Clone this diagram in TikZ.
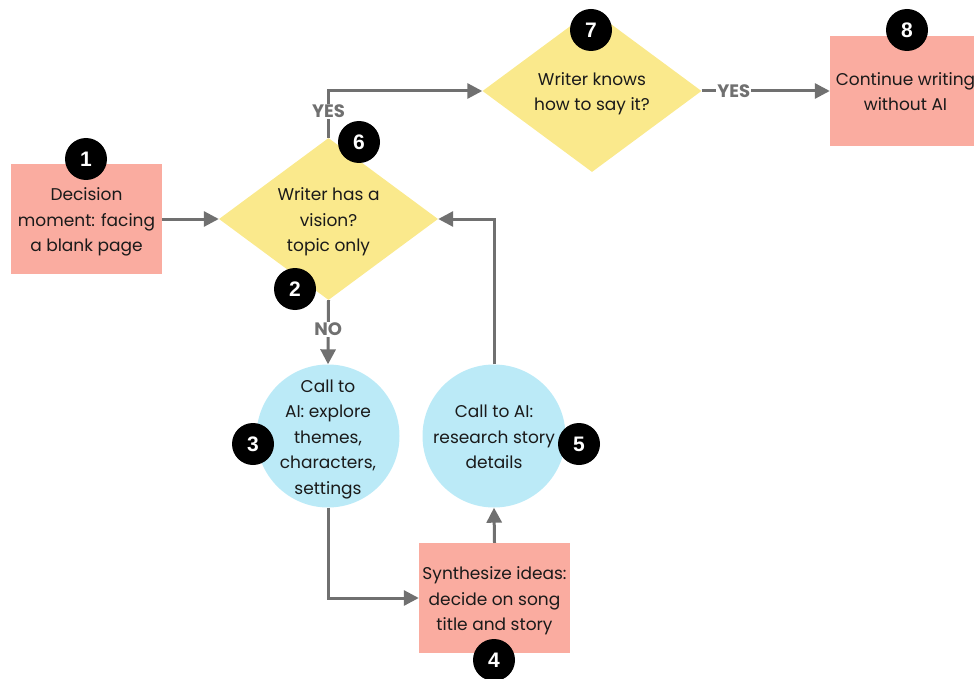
\documentclass[tikz,border=0pt]{standalone}
\usepackage{fontspec}
\setmainfont{Poppins}
\newfontfamily\badgefont{Liberation Sans}
\usetikzlibrary{shapes.geometric,arrows.meta}
\definecolor{salmon}{RGB}{250,172,160}
\definecolor{lemon}{RGB}{250,233,140}
\definecolor{sky}{RGB}{187,234,247}
\definecolor{wire}{RGB}{112,112,112}
\definecolor{ink}{RGB}{26,26,26}

\begin{document}
\begin{tikzpicture}[x=1pt,y=-1pt,
    txt/.style={font=\fontsize{17}{25.5}\selectfont,text=ink,align=center,text depth=0pt},
    two/.style={text height=39.9pt},
    three/.style={text height=65.4pt},
    five/.style={text height=116.4pt},
    stepbox/.style={txt,rectangle,fill=salmon,minimum width=151pt,minimum height=110pt,inner sep=0pt},
    ask/.style={txt,diamond,fill=lemon,minimum width=219pt,minimum height=162pt,inner sep=-10pt},
    ai/.style={txt,circle,fill=sky,minimum size=143pt,inner sep=-20pt},
    badge/.style={circle,fill=black,minimum size=42pt,inner sep=0pt,text=white,font=\badgefont\bfseries\fontsize{21}{21}\selectfont},
    arr/.style={draw=wire,line width=3pt,-{Triangle[length=15pt,width=15pt]}},
    lbl/.style={fill=white,text=wire,font=\bfseries\fontsize{18}{18}\selectfont,inner sep=1pt}]
    \useasboundingbox (0,0) rectangle (974,679);
    \node[stepbox,three] (b1) at (86.5,219) {Decision\\moment: facing\\a blank page};
    \node[ask,three] (d6) at (328.5,219) {Writer has a\\vision?\\topic only};
    \node[ask,two] (d7) at (592,91) {Writer knows\\how to say it?};
    \node[stepbox,two] (b8) at (905.5,91) {Continue writing\\without AI};
    \node[ai,five] (c3) at (328,436) {Call to\\AI: explore\\themes,\\characters,\\settings};
    \node[ai,three] (c5) at (494,436) {Call to AI:\\research story\\details};
    \node[stepbox,three] (b4) at (494.5,598) {Synthesize ideas:\\decide on song\\title and story};
    % connectors
    \draw[arr] (b1) -- (d6);
    \draw[arr] (d6.north) |- node[pos=0.28,lbl]{YES} (d7.west);
    \draw[arr] (d7.east) -- node[pos=0.25,lbl]{YES} (b8.west);
    \draw[arr] (d6.south) -- node[pos=0.45,lbl]{NO} (c3.north);
    \draw[arr] (c3.south) |- (b4.west);
    \draw[arr] (b4.north) -- (c5.south);
    \draw[arr] (c5.north) |- (d6.east);
    % numbers
    \foreach \n/\x/\y in {1/86/159,2/295/289,3/253/444,4/494/660,5/579/444,6/359/142,7/591/30,8/907/30}{
        \node[badge] (n\n) at (\x,\y) {\n};
    }
\end{tikzpicture}
\end{document}
